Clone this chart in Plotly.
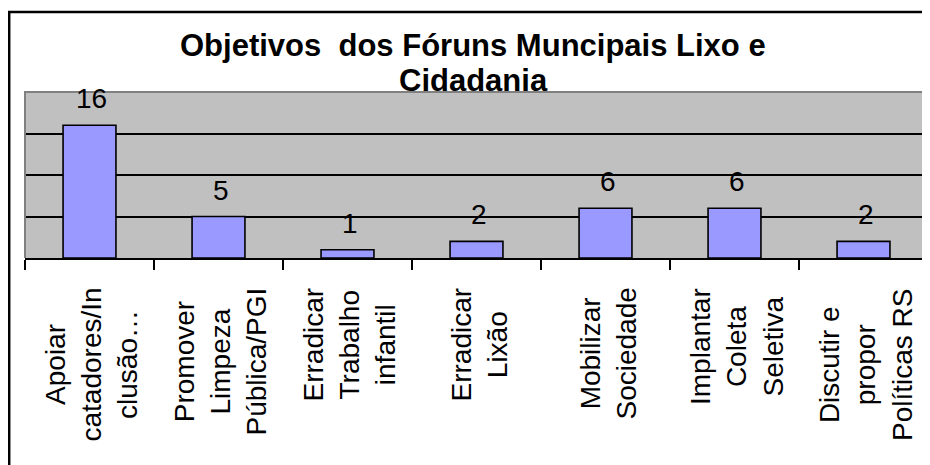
import plotly.graph_objects as go

# Data
categories = [
    "Apoiar<br>catadores/In<br>clusão…",
    "Promover<br>Limpeza<br>Pública/PGI",
    "Erradicar<br>Trabalho<br>infantil",
    "Erradicar<br>Lixão",
    "Mobilizar<br>Sociedade",
    "Implantar<br>Coleta<br>Seletiva",
    "Discutir e<br>propor<br>Políticas RS",
]
values = [16, 5, 1, 2, 6, 6, 2]
title_lines = ["Objetivos  dos Fóruns Muncipais Lixo e", "Cidadania"]

FONT = "Liberation Sans, Arial, sans-serif"

# The page body has an 8px margin, so the figure sits at (8, 8) in the window.
# Plot area in figure pixels: x 17..920, y 84..250
W, H = 922, 457
L, R, T, B = 17, 2, 84, 207
pw = W - L - R
ph = H - T - B


def py(pix):
    # figure pixel row -> paper y
    return (H - B - pix) / ph


def px(pix):
    return (pix - L) / pw


fig = go.Figure(
    data=[
        go.Bar(
            x=categories,
            y=values,
            marker=dict(color="#9999FF", line=dict(color="black", width=1.6)),
            width=0.41,
            hoverinfo="x+y",
        )
    ]
)

annotations = []
# title, two lines placed separately for tighter spacing
for line, base in zip(title_lines, [47, 82]):
    annotations.append(dict(
        x=px(465), y=py(base - 10), xref="paper", yref="paper", text=line,
        showarrow=False, xanchor="center", yanchor="middle",
        font=dict(family=FONT, size=31, color="black", weight="bold"),
    ))
# value labels above the bars
for c, v in zip(categories, values):
    annotations.append(dict(
        x=c, y=v, xref="x", yref="y", text=str(v), showarrow=False,
        yanchor="bottom", xanchor="center", yshift=9, xshift=2,
        font=dict(family=FONT, size=28, color="black"),
    ))
# rotated category labels below the axis, lines centred on each other
for c in categories:
    annotations.append(dict(
        x=c, y=py(278), xref="x", yref="paper", text=c, showarrow=False,
        textangle=-90, xanchor="center", yanchor="top", align="center",
        xshift=2,
        font=dict(family=FONT, size=28, color="black"),
    ))

shapes = [
    # grey plot-area frame (left, top, right)
    dict(type="path", xref="paper", yref="paper",
         path="M 0,0 L 0,1 L 1,1 L 1,0",
         line=dict(color="#808080", width=2)),
    # black outer chart border (right and bottom sides fall off the page)
    dict(type="rect", xref="paper", yref="paper",
         x0=px(1.2), x1=px(926), y0=py(462), y1=py(4),
         line=dict(color="black", width=2.5), fillcolor="rgba(0,0,0,0)"),
]

fig.update_layout(
    width=W, height=H,
    margin=dict(l=L, r=R, t=T, b=B, pad=0),
    paper_bgcolor="white",
    plot_bgcolor="#C0C0C0",
    showlegend=False,
    annotations=annotations,
    shapes=shapes,
)
fig.update_xaxes(
    type="category", showticklabels=False, showgrid=False,
    showline=True, linecolor="black", linewidth=2,
    ticks="outside", tickson="boundaries", ticklen=10, tickwidth=2, tickcolor="black",
)
fig.update_yaxes(
    range=[0, 20], dtick=5, showticklabels=False,
    showgrid=True, gridcolor="black", gridwidth=2,
    zeroline=False, showline=False, ticks="",
)

fig.write_html("out.html", config={"displayModeBar": False})
